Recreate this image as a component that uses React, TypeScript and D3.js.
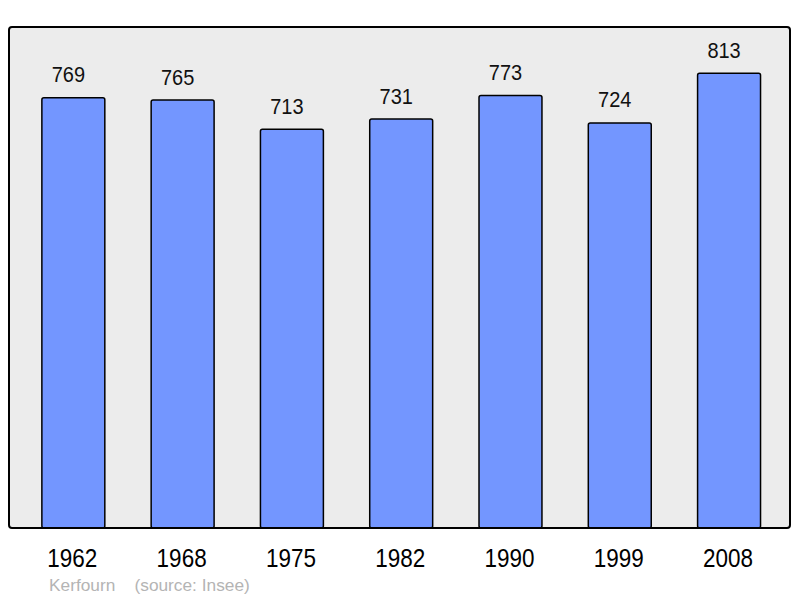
import React from "react";
import * as d3 from "d3";

const years = ["1962", "1968", "1975", "1982", "1990", "1999", "2008"];
const population = [769, 765, 713, 731, 773, 724, 813];
const caption = "Kerfourn    (source: Insee)";

export default function App() {
  const W = 800, H = 598;
  const x = d3.scaleBand<string>().domain(years).range([18.7, 783.7]).paddingInner(0.424).paddingOuter(0.212);
  const y = d3.scaleLinear().domain([0, 895.6]).range([528, 27]);
  return (
    <svg width={W} height={H} style={{ position: "absolute", left: 0, top: 0 }} fontFamily="Liberation Sans, Arial, sans-serif">
      <rect x={9} y={27} width={781} height={501} rx={3} fill="#ececec" stroke="none" />
      {years.map((yr, i) => {
        const cx = (x(yr) as number) + x.bandwidth() / 2;
        return (
          <g key={yr}>
            <rect x={x(yr)} y={y(population[i])} width={x.bandwidth()} height={y(0) - y(population[i])} rx={2} fill="#7396ff" stroke="#000" strokeWidth={1.5} />
            <text transform={`translate(${cx - 5},${y(population[i]) - 15.5}) scale(1,1.08)`} textAnchor="middle" fontSize={20} fill="#111">{population[i]}</text>
            <text transform={`translate(${cx - 1},566.5) scale(1,1.18)`} textAnchor="middle" fontSize={22.5} fill="#000">{yr}</text>
          </g>
        );
      })}
      <rect x={9} y={27} width={781} height={501} rx={3} fill="none" stroke="#000" strokeWidth={2} />
      <text x={49} y={591} fontSize={17.3} fill="#b4b4b4" style={{ whiteSpace: "pre" }}>{caption}</text>
    </svg>
  );
}
